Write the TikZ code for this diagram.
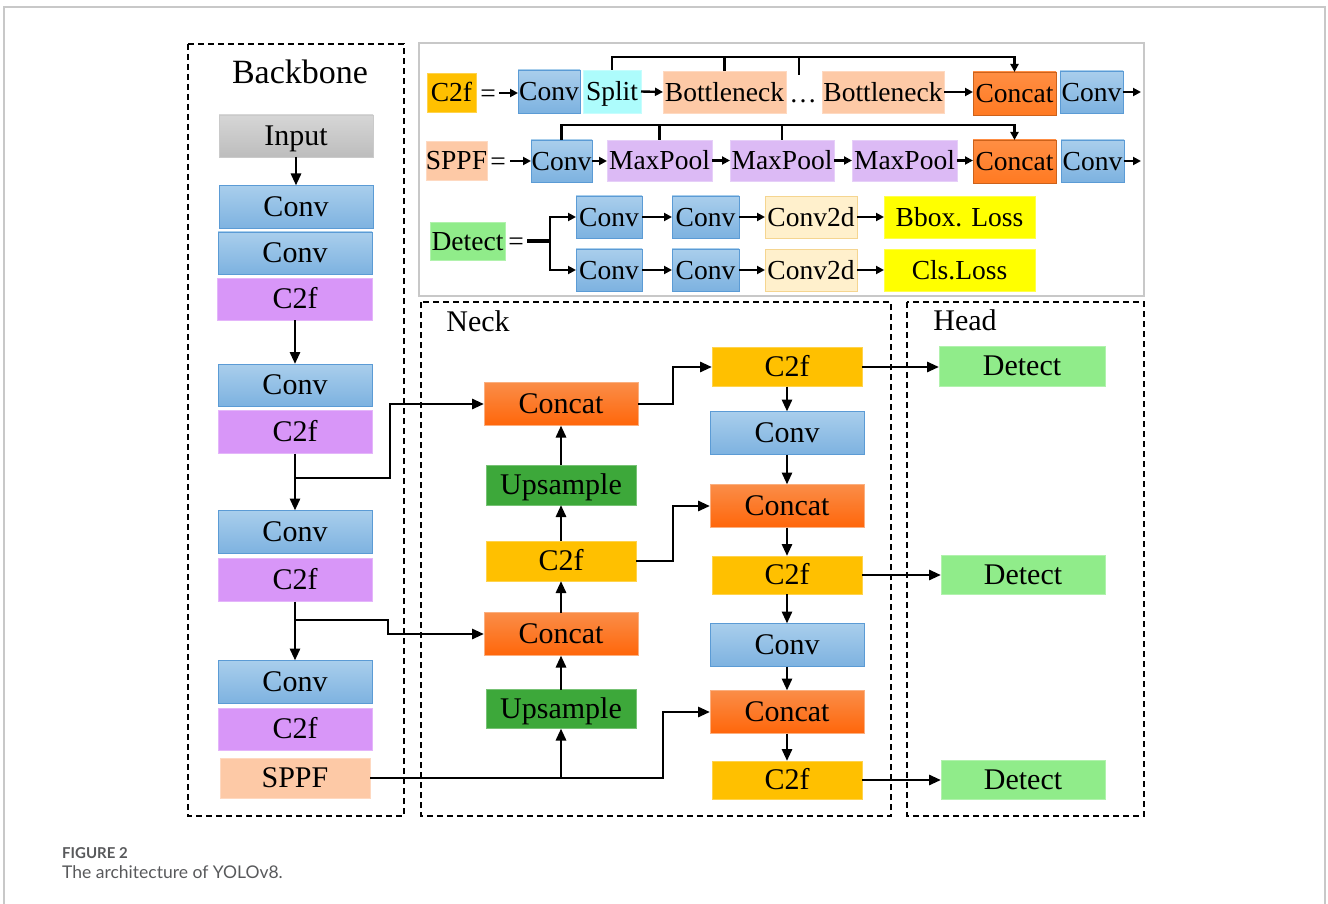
\documentclass[tikz,border=0pt]{standalone}
\usepackage{fontspec}
\setmainfont{Liberation Serif}
\newfontfamily\capfont{Lato}
\usetikzlibrary{arrows.meta}

\definecolor{convtop}{HTML}{A9CEEC}
\definecolor{convbot}{HTML}{7DB2E0}
\definecolor{convdraw}{HTML}{5B9BD5}
\definecolor{violet}{HTML}{D896F8}
\definecolor{gold}{HTML}{FFC000}
\definecolor{cattop}{HTML}{FA8D48}
\definecolor{catbot}{HTML}{FF660A}
\definecolor{upgreen}{HTML}{3DA83A}
\definecolor{detgreen}{HTML}{90EC8A}
\definecolor{graytop}{HTML}{D6D6D6}
\definecolor{graybot}{HTML}{BDBDBD}
\definecolor{peach}{HTML}{FDC9A6}
\definecolor{aqua}{HTML}{ADFCFC}
\definecolor{lavender}{HTML}{DCBAF5}
\definecolor{silk}{HTML}{FFF0CC}
\definecolor{silkdraw}{HTML}{F5D590}
\definecolor{lemon}{HTML}{FFFF00}
\definecolor{tcat}{HTML}{FF7A22}
\definecolor{frame}{HTML}{C8C8C8}
\definecolor{captxt}{HTML}{58595B}

\begin{document}
\begin{tikzpicture}[x=1pt,y=-1pt,
  sz/.style 2 args={minimum width=#1pt, minimum height=#2pt},
  base/.style={inner sep=0pt, outer sep=0pt, line width=0.8pt, text=black},
  big/.style={font=\fontsize{30}{30}\selectfont, text height=19.8pt, text depth=0pt},
  small/.style={font=\fontsize{27.5}{27.5}\selectfont, text height=18.2pt, text depth=0pt},
  title/.style={font=\fontsize{34}{34}\selectfont, text height=22.4pt, text depth=0pt},
  conv/.style={base, top color=convtop, bottom color=convbot, draw=convdraw},
  cff/.style={base, fill=violet, draw=violet!70!white},
  gcf/.style={base, fill=gold, draw=gold!70!white},
  cat/.style={base, top color=cattop, bottom color=catbot, draw=cattop!70!white},
  tcatbox/.style={base, top color=tcat!85!white, bottom color=tcat, draw=tcat!80!black},
  upbox/.style={base, fill=upgreen, draw=upgreen!70!white},
  detbox/.style={base, fill=detgreen, draw=detgreen!70!white},
  inbox/.style={base, top color=graytop, bottom color=graybot, draw=graybot!80!white},
  peachbox/.style={base, fill=peach, draw=peach!70!white},
  aquabox/.style={base, fill=aqua, draw=aqua!70!white},
  lavbox/.style={base, fill=lavender, draw=lavender!70!white},
  silkbox/.style={base, fill=silk, draw=silkdraw},
  lemonbox/.style={base, fill=lemon, draw=lemon!70!white},
  plain/.style={inner sep=0pt},
  region/.style={draw=black, line width=2pt, dash pattern=on 6pt off 4pt},
  arr/.style={line width=2.8pt, -{Triangle[length=12pt,width=10pt]}},
  ln/.style={line width=2.8pt},
  tarr/.style={line width=2.4pt, -{Triangle[length=8pt,width=8pt]}},
  tln/.style={line width=2.4pt}]
\useasboundingbox (0,0) rectangle (1328,904);

% page frame, open at the bottom
\draw[frame, line width=1.6pt] (4,904) -- (4,7) -- (1325,7) -- (1325,904);

% ---------------- regions ----------------
\draw[region] (188,44) rectangle (404,816);
\draw[region] (421,302) rectangle (891,816);
\draw[region] (907,302) rectangle (1144,816);
\draw[frame, line width=2pt] (419,43) rectangle (1144,296);

\node[plain, title] (tback) at (300,72) {Backbone};
\node[plain, big] (tneck) at (478,322) {Neck};
\node[plain, big] (thead) at (965,321) {Head};

% ---------------- backbone ----------------
\node[inbox, big, sz={154}{42}] (in)  at (296,136) {Input};
\node[conv,  big, sz={154}{43}] (bc1) at (296,207) {Conv};
\node[conv,  big, sz={154}{42}] (bc2) at (295,253) {Conv};
\node[cff,   big, sz={155}{42}] (bf1) at (295,299) {C2f};
\node[conv,  big, sz={154}{42}] (bc3) at (295,385) {Conv};
\node[cff,   big, sz={154}{43}] (bf2) at (295,432) {C2f};
\node[conv,  big, sz={154}{43}] (bc4) at (295,532) {Conv};
\node[cff,   big, sz={154}{43}] (bf3) at (295,580) {C2f};
\node[conv,  big, sz={154}{43}] (bc5) at (295,682) {Conv};
\node[cff,   big, sz={154}{42}] (bf4) at (295,729) {C2f};
\node[peachbox, big, sz={150}{40}] (sppf) at (295,778) {SPPF};

\draw[arr] (in.south -| bc1.north) -- (bc1.north);
\draw[arr] (bf1.south) -- (bc3.north);
\draw[arr] (bf2.south) -- (bc4.north);
\draw[arr] (bf3.south) -- (bc5.north);
\coordinate (j1) at (295,478);
\coordinate (j2) at (295,620);

% ---------------- neck ----------------
\node[cat,  big, sz={154}{43}] (nc1) at (561,404) {Concat};
\node[upbox,big, sz={150}{40}] (nu1) at (561,485) {Upsample};
\node[gcf,  big, sz={150}{40}] (nf1) at (561,561) {C2f};
\node[cat,  big, sz={154}{43}] (nc2) at (561,634) {Concat};
\node[upbox,big, sz={150}{39}] (nu2) at (561,709) {Upsample};

\node[gcf,  big, sz={150}{39}] (pf1) at (787,367) {C2f};
\node[conv, big, sz={154}{43}] (pv1) at (787,433) {Conv};
\node[cat,  big, sz={154}{43}] (pc2) at (787,506) {Concat};
\node[gcf,  big, sz={150}{38}] (pf2) at (787,575) {C2f};
\node[conv, big, sz={154}{43}] (pv2) at (787,645) {Conv};
\node[cat,  big, sz={154}{43}] (pc3) at (787,712) {Concat};
\node[gcf,  big, sz={150}{38}] (pf3) at (787,780) {C2f};

% ---------------- head ----------------
\node[detbox, big, sz={166}{40}] (hd1) at (1022,366) {Detect};
\node[detbox, big, sz={164}{39}] (hd2) at (1023,575) {Detect};
\node[detbox, big, sz={164}{39}] (hd3) at (1023,780) {Detect};

% lateral links from the backbone
\draw[arr] (j1) -- ++(95,0) |- (nc1.west);
\draw[arr] (j2) -- ++(93,0) |- (nc2.west);
\coordinate (s1) at (663,778);
\draw[arr] (sppf.east) -| (nu2.south);
\draw[arr] (sppf.east) -- (s1) |- (pc3.west);

% top-down path
\draw[arr] (nu2.north) -- (nc2.south);
\draw[arr] (nc2.north) -- (nf1.south);
\draw[arr] (nf1.north) -- (nu1.south);
\draw[arr] (nu1.north) -- (nc1.south);
\draw[arr] (nc1.east) -- ++(35,0) |- (pf1.west);
\draw[arr] (nf1.east) -- ++(37,0) |- (pc2.west);

% bottom-up path
\draw[arr] (pf1.south) -- (pv1.north);
\draw[arr] (pv1.south) -- (pc2.north);
\draw[arr] (pc2.south) -- (pf2.north);
\draw[arr] (pf2.south) -- (pv2.north);
\draw[arr] (pv2.south) -- (pc3.north);
\draw[arr] (pc3.south) -- (pf3.north);

\draw[arr] (pf1.east) -- (hd1.west |- pf1.east);
\draw[arr] (pf2.east) -- (hd2.west |- pf2.east);
\draw[arr] (pf3.east) -- (hd3.west |- pf3.east);

% ---------------- module definitions ----------------
% C2f
\node[gcf, small, sz={49}{39}] (t1tag) at (451.5,92.5) {C2f};
\node[plain, small] (eq1) at (488,93) {=};
\node[conv, small, sz={62}{43}] (t1conv) at (549,91.5) {Conv};
\node[aquabox, small, sz={58}{43}] (t1split) at (612,91.5) {Split};
\node[peachbox, small, sz={123}{42}] (t1b1) at (724.5,92) {Bottleneck};
\node[plain, small] (t1dots) at (803,93) {\dots};
\node[peachbox, small, sz={122}{42}] (t1b2) at (883,92) {Bottleneck};
\node[tcatbox, small, sz={83}{43}] (t1cat) at (1014.5,93.5) {Concat};
\node[conv, small, sz={63}{42}] (t1conv2) at (1091.5,92) {Conv};
\coordinate (t1out) at (1141,92);
\coordinate (t1bus) at (612,57);
\coordinate (t1tick) at (799,75);

\draw[tarr] (499,93) -- (t1conv.west |- 0,93);
\draw[tarr] (t1split.east) -- (t1b1.west);
\draw[tarr] (t1b2.east) -- (t1cat.west |- t1b2.east);
\draw[tarr] (t1conv2.east) -- (t1out);
\draw[tarr] (t1split.north) -- (t1bus) -| (t1cat.north);
\draw[tln] (t1b1.north) -- (t1b1.north |- t1bus);
\draw[tln] (t1tick) -- (t1tick |- t1bus);

% SPPF
\node[peachbox, small, sz={59}{39}] (t2tag) at (456.5,160.5) {SPPF};
\node[plain, small] (eq2) at (498,161) {=};
\node[conv, small, sz={61}{42}] (t2conv) at (561.5,161) {Conv};
\node[lavbox, small, sz={105}{41}] (t2m1) at (659.5,160.5) {MaxPool};
\node[lavbox, small, sz={104}{41}] (t2m2) at (782,160.5) {MaxPool};
\node[lavbox, small, sz={105}{41}] (t2m3) at (904.5,160.5) {MaxPool};
\node[tcatbox, small, sz={83}{43}] (t2cat) at (1014.5,161.5) {Concat};
\node[conv, small, sz={63}{42}] (t2conv2) at (1092.5,161) {Conv};
\coordinate (t2out) at (1141,161);
\coordinate (t2bus) at (561.5,125);

\draw[tarr] (510,161) -- (t2conv.west);
\draw[tarr] (t2conv.east) -- (t2m1.west |- t2conv.east);
\draw[tarr] (t2m1.east) -- (t2m2.west);
\draw[tarr] (t2m2.east) -- (t2m3.west);
\draw[tarr] (t2m3.east) -- (t2cat.west |- t2m3.east);
\draw[tarr] (t2conv2.east) -- (t2out);
\draw[tarr] (t2conv.north) -- (t2bus) -| (t2cat.north);
\draw[tln] (t2m1.north) -- (t2m1.north |- t2bus);
\draw[tln] (t2m2.north) -- (t2m2.north |- t2bus);

% Detect
\node[detbox, small, sz={75}{38}] (t3tag) at (467.5,241) {Detect};
\node[plain, small] (eq3) at (516,241) {=};
\node[conv, small, sz={66}{42}] (t3a1) at (609,217) {Conv};
\node[conv, small, sz={67}{42}] (t3a2) at (705.5,217) {Conv};
\node[silkbox, small, sz={92}{42}] (t3a3) at (811,217) {Conv2d};
\node[lemonbox, small, sz={151}{42}] (t3a4) at (959.5,217) {Bbox. Loss};
\node[conv, small, sz={66}{42}] (t3b1) at (609,270) {Conv};
\node[conv, small, sz={67}{42}] (t3b2) at (705.5,270) {Conv};
\node[silkbox, small, sz={92}{42}] (t3b3) at (811,270) {Conv2d};
\node[lemonbox, small, sz={151}{42}] (t3b4) at (959.5,270) {Cls.Loss};
\coordinate (t3s) at (527,241);
\coordinate (t3j) at (550,241);

\draw[line width=3.4pt] (t3s) -- (t3j);
\draw[tarr] (t3j) |- (t3a1.west);
\draw[tarr] (t3j) |- (t3b1.west);
\draw[tarr] (t3a1.east) -- (t3a2.west);
\draw[tarr] (t3a2.east) -- (t3a3.west);
\draw[tarr] (t3a3.east) -- (t3a4.west);
\draw[tarr] (t3b1.east) -- (t3b2.west);
\draw[tarr] (t3b2.east) -- (t3b3.west);
\draw[tarr] (t3b3.east) -- (t3b4.west);

% ---------------- caption ----------------
\node[anchor=base west, inner sep=0pt, text=captxt,
      font=\capfont\bfseries\fontsize{15}{15}\selectfont] (capa) at (62,858) {FIGURE 2};
\node[anchor=base west, inner sep=0pt, text=captxt,
      font=\capfont\fontsize{17.5}{17.5}\selectfont] (capb) at (62,878) {The architecture of YOLOv8.};
\end{tikzpicture}
\end{document}
